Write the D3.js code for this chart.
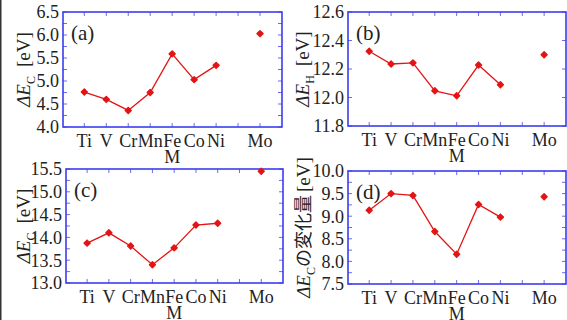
<!DOCTYPE html>
<html>
<head>
<meta charset="utf-8">
<script src="https://cdn.jsdelivr.net/npm/d3@7"></script>
<style>
    body { margin: 0; background: #fff; }
    svg { display: block; }
    text { font-family: "Liberation Serif", "DejaVu Serif", serif; fill: #222; }
</style>
</head>
<body>
<svg id="chart" width="567" height="320"></svg>
<script>
// Data
const elements = ['Ti', 'V', 'Cr', 'Mn', 'Fe', 'Co', 'Ni', 'Mo'];
const elementSlot = [0, 1, 2, 3, 4, 5, 6, 8];   // Mo sits one slot apart

const deltaEcA = [4.76, 4.60, 4.36, 4.75, 5.59, 5.03, 5.34, 6.03];
const deltaEhB = [12.325, 12.235, 12.243, 12.047, 12.012, 12.228, 12.09, 12.30];
const deltaEcC = [13.875, 14.10, 13.81, 13.40, 13.77, 14.27, 14.31, 15.45];
const deltaEcD = [9.13, 9.50, 9.46, 8.66, 8.16, 9.26, 8.98, 9.43];

const yTicksA = [4.0, 4.5, 5.0, 5.5, 6.0, 6.5];
const yTicksB = [11.8, 12.0, 12.2, 12.4, 12.6];
const yTicksC = [13.0, 13.5, 14.0, 14.5, 15.0, 15.5];
const yTicksD = [7.5, 8.0, 8.5, 9.0, 9.5, 10.0];

const colors = {
    frame: '#3c3cf0',
    tick: '#6a6af0',
    series: '#e41414',
};

const panels = [
    { tag: '(a)', values: deltaEcA, ticks: yTicksA, minor: 0.25, sub: 'C', suffix: '',
      box: { x0: 63, x1: 282, y0: 12, y1: 127 }, labelX: 23 },
    { tag: '(b)', values: deltaEhB, ticks: yTicksB, minor: null, sub: 'H', suffix: '',
      box: { x0: 348, x1: 566, y0: 12, y1: 126 }, labelX: 302 },
    { tag: '(c)', values: deltaEcC, ticks: yTicksC, minor: 0.25, sub: 'C', suffix: '',
      box: { x0: 66, x1: 283, y0: 169, y1: 283 }, labelX: 23 },
    { tag: '(d)', values: deltaEcD, ticks: yTicksD, minor: 0.25, sub: 'C', suffix: 'の変化量',
      box: { x0: 348, x1: 566, y0: 171, y1: 284 }, labelX: 303 },
];

const svg = d3.select('#chart');

// thin dark edge on the left of the original image
svg.append('line')
    .attr('x1', 0.75).attr('x2', 0.75)
    .attr('y1', 0).attr('y2', 320)
    .attr('stroke', '#333').attr('stroke-width', 1.5);

const marker = d3.symbol().type(d3.symbolDiamond2).size(22);

panels.forEach(p => {
    const b = p.box;
    const x = d3.scaleLinear().domain([-0.97, 9]).range([b.x0, b.x1]);
    const yMin = p.ticks[0], yMax = p.ticks[p.ticks.length - 1];
    const y = d3.scaleLinear().domain([yMin, yMax]).range([b.y1, b.y0]);

    const g = svg.append('g');

    // inward ticks on all four sides
    const xTickVals = d3.range(0, 9);
    const yTickVals = p.minor
        ? d3.range(Math.round((yMax - yMin) / p.minor) + 1).map(i => yMin + i * p.minor)
        : p.ticks;

    const tickLen = 4;
    const tickG = g.append('g')
        .attr('stroke', colors.tick)
        .attr('stroke-width', 1);

    tickG.selectAll('.tb').data(xTickVals).enter().append('line')
        .attr('x1', d => x(d)).attr('x2', d => x(d))
        .attr('y1', b.y1).attr('y2', b.y1 - tickLen);
    tickG.selectAll('.tt').data(xTickVals).enter().append('line')
        .attr('x1', d => x(d)).attr('x2', d => x(d))
        .attr('y1', b.y0).attr('y2', b.y0 + tickLen);
    tickG.selectAll('.tl').data(yTickVals).enter().append('line')
        .attr('x1', b.x0).attr('x2', b.x0 + tickLen)
        .attr('y1', d => y(d)).attr('y2', d => y(d));
    tickG.selectAll('.tr').data(yTickVals).enter().append('line')
        .attr('x1', b.x1).attr('x2', b.x1 - tickLen)
        .attr('y1', d => y(d)).attr('y2', d => y(d));

    // frame
    g.append('rect')
        .attr('x', b.x0).attr('y', b.y0)
        .attr('width', b.x1 - b.x0).attr('height', b.y1 - b.y0)
        .attr('fill', 'none')
        .attr('stroke', colors.frame)
        .attr('stroke-width', 1.6);

    // y tick labels
    g.selectAll('.yl').data(p.ticks).enter().append('text')
        .attr('x', b.x0 - 4)
        .attr('y', d => y(d))
        .attr('dy', '0.35em')
        .attr('text-anchor', 'end')
        .attr('font-size', 18)
        .text(d => d.toFixed(1));

    // x tick labels
    g.selectAll('.xl').data(elements).enter().append('text')
        .attr('x', (d, i) => x(elementSlot[i]))
        .attr('y', b.y1 + 20)
        .attr('text-anchor', 'middle')
        .attr('font-size', 18)
        .text(d => d);

    // x axis title
    g.append('text')
        .attr('x', x(4))
        .attr('y', b.y1 + 36)
        .attr('text-anchor', 'middle')
        .attr('font-size', 18)
        .text('M');

    // y axis title
    const yl = g.append('text')
        .attr('transform', `translate(${p.labelX},${(b.y0 + b.y1) / 2}) rotate(-90)`)
        .attr('dy', '0.35em')
        .attr('text-anchor', 'middle')
        .attr('font-size', 19);
    yl.append('tspan').attr('font-style', 'italic').text('Δ');
    yl.append('tspan').attr('font-style', 'italic').text('E');
    yl.append('tspan').attr('font-size', 12).attr('dy', 5).text(p.sub);
    if (p.suffix) {
        yl.append('tspan').attr('dy', -5)
            .style('font-family', '"Noto Sans CJK JP", sans-serif')
            .attr('font-size', 18)
            .text(p.suffix);
        yl.append('tspan').attr('dx', 3).text('[eV]');
    } else {
        yl.append('tspan').attr('dy', -5).attr('dx', 9).text('[eV]');
    }

    // panel tag
    g.append('text')
        .attr('x', b.x0 + 8)
        .attr('y', b.y0 + 28)
        .attr('font-size', 21)
        .text(p.tag);

    // series: connected Ti..Ni, Mo alone
    const pts = p.values.map((v, i) => ({ slot: elementSlot[i], v }));
    const line = d3.line().x(d => x(d.slot)).y(d => y(d.v));

    g.append('path')
        .datum(pts.slice(0, 7))
        .attr('d', line)
        .attr('fill', 'none')
        .attr('stroke', colors.series)
        .attr('stroke-width', 1.3);

    g.selectAll('.pt').data(pts).enter().append('path')
        .attr('d', marker)
        .attr('transform', d => `translate(${x(d.slot)},${y(d.v)})`)
        .attr('fill', colors.series)
        .attr('stroke', colors.series)
        .attr('stroke-width', 1.5)
        .attr('stroke-linejoin', 'round');
});
</script>
</body>
</html>
